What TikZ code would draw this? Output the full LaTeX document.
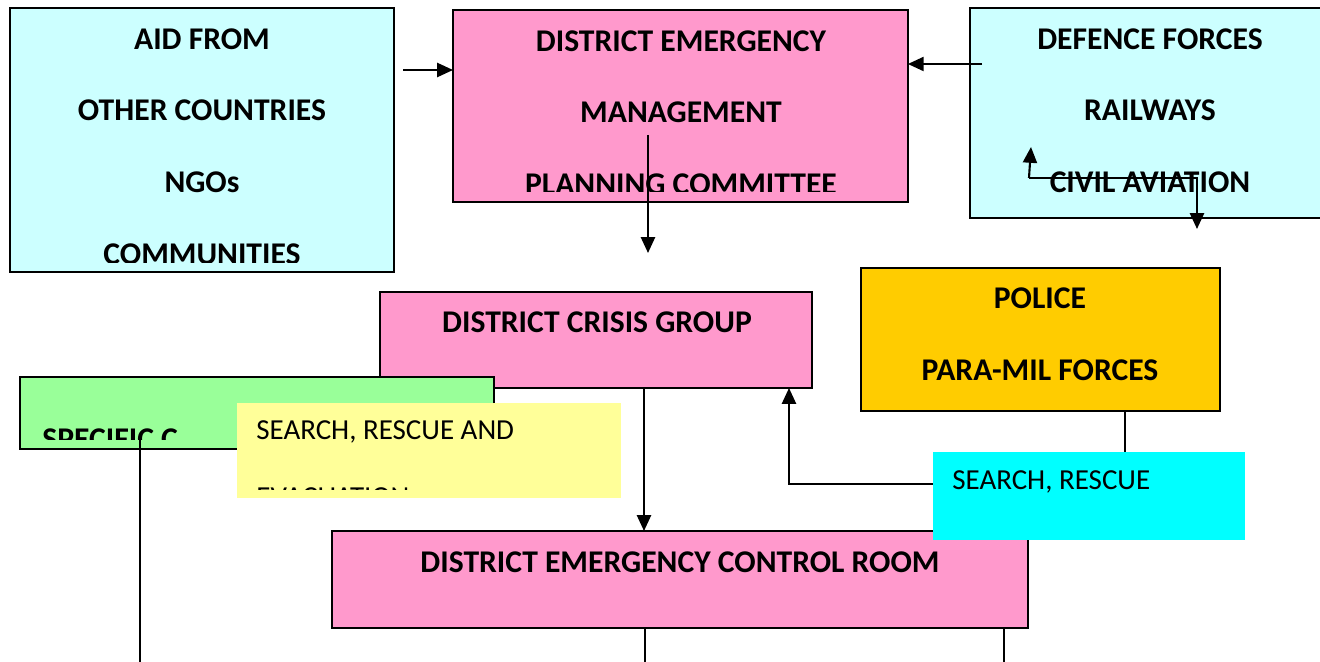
\documentclass[tikz,border=0pt]{standalone}
\usepackage{fontspec}
\setmainfont{Carlito}
\usetikzlibrary{arrows.meta}

\definecolor{paleaqua}{HTML}{CCFFFF}
\definecolor{rosepink}{HTML}{FF99CC}
\definecolor{amber}{HTML}{FFCC00}
\definecolor{mint}{HTML}{99FF99}
\definecolor{lemon}{HTML}{FFFF99}
\definecolor{aqua}{HTML}{00FFFF}

\begin{document}
\begin{tikzpicture}[x=0.02cm, y=-0.02cm,
  box/.style={draw, line width=1.1pt, anchor=north west, inner sep=0pt, outer sep=0pt},
  flat/.style={anchor=north west, inner sep=0pt, outer sep=0pt},
  head/.style={font=\fontsize{18}{20}\selectfont\bfseries, anchor=base, inner sep=0pt},
  plain/.style={font=\fontsize{16.5}{18}\selectfont, anchor=base west, inner sep=0pt},
  arr/.style={-{Triangle[length=9pt, width=8pt]}, line width=1.2pt},
  wire/.style={line width=0.75pt}]

\useasboundingbox (0,0) rectangle (1320,662);
\clip (0,0) rectangle (1320,662);

% top row
\node[box, fill=paleaqua, minimum width=7.68cm, minimum height=5.28cm] (aid) at (10,8) {};
\node[box, fill=rosepink, minimum width=9.10cm, minimum height=3.84cm] (dem) at (453,10) {};
\node[box, fill=paleaqua, minimum width=7.40cm, minimum height=4.20cm] (defence) at (970,8) {};

\begin{scope}
  \clip (10,8) rectangle (394,263);
  \node[head] (aid1) at (202,50) {AID FROM};
  \node[head] (aid2) at (202,121) {OTHER COUNTRIES};
  \node[head] (aid3) at (202,193) {NGOs};
  \node[head] (aid4) at (202,265) {COMMUNITIES};
\end{scope}
\begin{scope}
  \clip (453,10) rectangle (908,192);
  \node[head] (dem1) at (681,52) {DISTRICT EMERGENCY};
  \node[head] (dem2) at (681,123) {MANAGEMENT};
  \node[head] (dem3) at (681,195) {PLANNING COMMITTEE};
\end{scope}
\node[head] (def1) at (1150,50) {DEFENCE FORCES};
\node[head] (def2) at (1150,121) {RAILWAYS};
\node[head] (def3) at (1150,193) {CIVIL AVIATION};

\coordinate (aidout) at (403,70);
\coordinate (defout) at (982,64);
\draw[arr] (aidout) -- (aidout -| dem.west);
\draw[arr] (defout) -- (defout -| dem.east);
\coordinate (demdrop) at (648,135);
\coordinate (demtip) at (648,253);
\draw[arr] (demdrop) -- (demtip);
\coordinate (railA) at (1029,178);
\coordinate (railUp) at (1031,147);
\coordinate (railB) at (1197,178);
\coordinate (railTip) at (1197,229);
\draw[arr] (railA) -- (railUp);
\draw[arr] (railA) -- (railB) -- (railTip);

% middle
\node[box, fill=rosepink, minimum width=8.64cm, minimum height=1.92cm] (dcg) at (380,292) {};
\node[head] (dcg1) at (597,333) {DISTRICT CRISIS GROUP};
\node[box, fill=amber, minimum width=7.18cm, minimum height=2.86cm] (police) at (861,268) {};
\node[head] (pol1) at (1040,309) {POLICE};
\node[head] (pol2) at (1040,381) {PARA-MIL FORCES};

\node[box, fill=rosepink, minimum width=13.92cm, minimum height=1.94cm] (decr) at (332,531) {};
\node[head] (decr1) at (680,573) {DISTRICT EMERGENCY CONTROL ROOM};

\coordinate (dcgout) at (644,388);
\draw[arr] (dcgout) -- (dcgout |- decr.north);
\coordinate (sarout) at (933,484);
\coordinate (sarup) at (789,388);
\draw[arr] (sarout) -| (sarup);
\coordinate (poldrop) at (1125,411);
\coordinate (sarin) at (1125,452);
\draw[wire] (poldrop) -- (sarin);

\node[box, fill=mint, minimum width=9.48cm, minimum height=1.44cm] (specific) at (20,377) {};
\begin{scope}
  \clip (20,377) rectangle (494,440);
  \node[head, anchor=base west] (spec1) at (42,450) {SPECIFIC C};
\end{scope}
\coordinate (specdrop) at (140,437);
\coordinate (specend) at (140,662);
\draw[wire] (specdrop) -- (specend);

\node[flat, fill=lemon, minimum width=7.68cm, minimum height=1.90cm] (evac) at (237,403) {};
\begin{scope}
  \clip (237,403) rectangle (621,490);
  \node[plain] (evac1) at (256,440) {SEARCH, RESCUE AND};
  \node[plain] (evac2) at (256,507) {EVACUATION};
\end{scope}

\coordinate (decrA) at (645,662);
\coordinate (decrB) at (1004,662);
\draw[wire] (decr.south -| decrA) -- (decrA);
\draw[wire] (decr.south -| decrB) -- (decrB);

\node[flat, fill=aqua, minimum width=6.24cm, minimum height=1.76cm] (rescue) at (933,452) {};
\node[plain] (res1) at (952,490) {SEARCH, RESCUE};

\end{tikzpicture}
\end{document}
